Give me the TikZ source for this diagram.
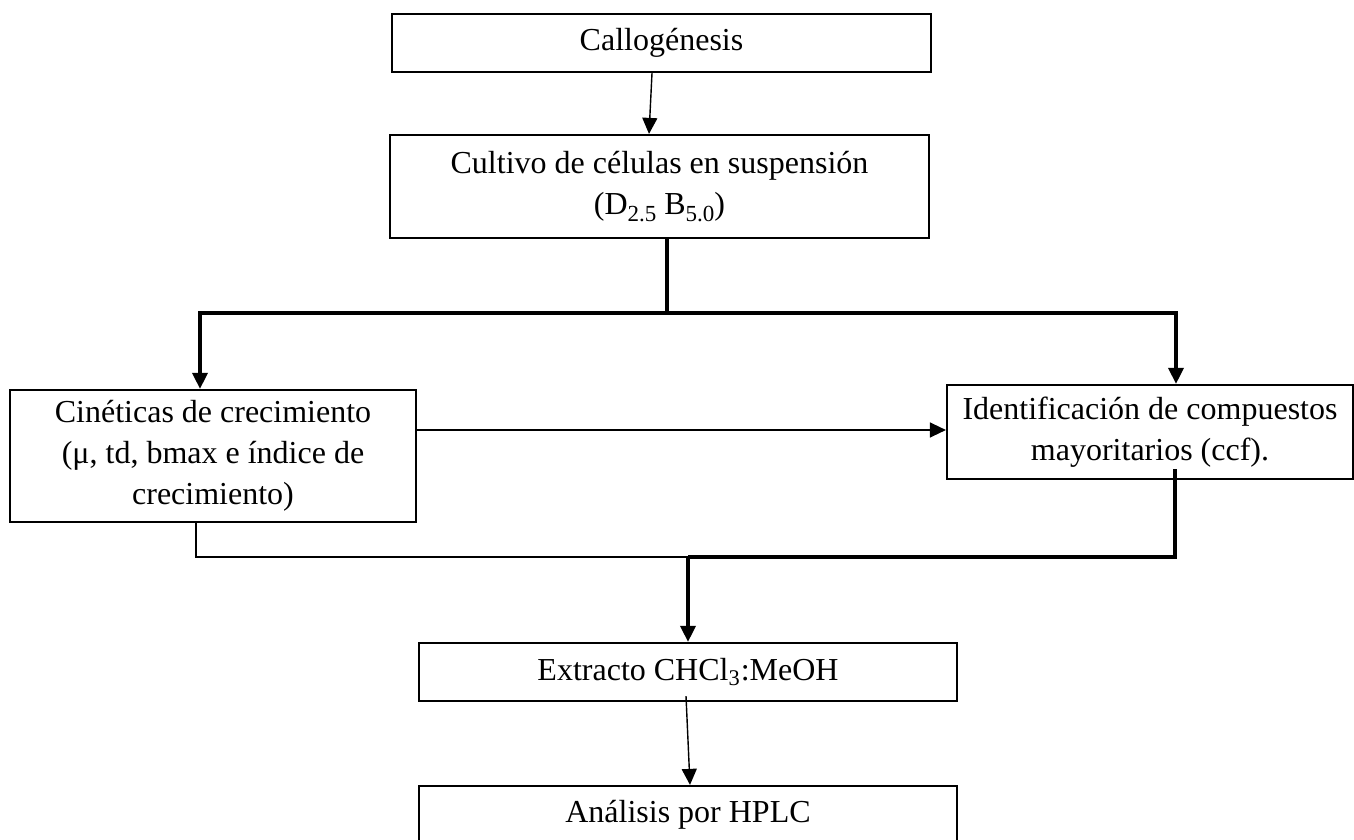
\documentclass[tikz,border=0pt]{standalone}
\usepackage{fontspec}
\setmainfont{Liberation Serif}
\usetikzlibrary{calc,arrows.meta}

\newcommand{\lowsub}[1]{\raisebox{-0.45ex}{\fontsize{11.5}{12}\selectfont #1}}

\begin{document}
\begin{tikzpicture}[x = 0.5pt, y = -0.5pt,
    > = {Triangle[length = 8pt, width = 7.5pt]},
    stage/.style = {draw, line width = 1.1pt, rectangle, align = center, inner sep = 0pt,
        font = \fontsize{16}{20.5}\selectfont},
    thinline/.style = {line width = 0.7pt},
    thickline/.style = {line width = 1.7pt}]

    \useasboundingbox (0, 0) rectangle (1354, 840);

% Nodes
    \node[stage, minimum width = 269.5pt, minimum height = 29pt] (cal) at (661.5, 43) {Callogénesis};
    \node[stage, minimum width = 269.5pt, minimum height = 51.5pt] (cult) at (659.5, 186.5) {Cultivo de células en suspensión\\(D\lowsub{2.5} B\lowsub{5.0})};
    \node[stage, minimum width = 203pt, minimum height = 66pt] (cin) at (213, 456) {Cinéticas de crecimiento\\(μ, td, bmax e índice de\\crecimiento)};
    \node[stage, minimum width = 203pt, minimum height = 47pt] (ident) at (1150, 432) {Identificación de compuestos\\mayoritarios (ccf).};
    \node[stage, minimum width = 269pt, minimum height = 29pt] (ext) at (688, 672) {Extracto CHCl\textsubscript{3}:MeOH};
    \node[stage, minimum width = 269pt, minimum height = 29pt] (hplc) at (688, 815) {Análisis por HPLC};

% Junctions
    \coordinate (split) at (667, 313);
    \coordinate (merge) at (688, 557);

% Directions
    \draw [->, thinline] ($(cal.south) + (-9.5, 0)$) -- ($(cult.north) + (-10.5, 0)$);
    \draw [thickline] ($(cult.south) + (7.5, 0)$) -- (split);
    \draw [->, thickline] (split) -| ($(cin.north) + (-13, 0)$);
    \draw [->, thickline] (split) -| ($(ident.north) + (26, 0)$);
    \draw [->, thinline] ($(cin.east) + (0, -26)$) -- ($(ident.west) + (0, -2)$);
    \draw [thinline] ($(cin.south) + (-17, 0)$) |- (merge);
    \draw [thickline] ($(ident.south) + (25, -11)$) |- (merge);
    \draw [->, thickline] (merge) -- (ext.north);
    \draw [->, thinline] ($(ext.south) + (-2, -6)$) -- ($(hplc.north) + (2, 0)$);

\end{tikzpicture}
\end{document}
